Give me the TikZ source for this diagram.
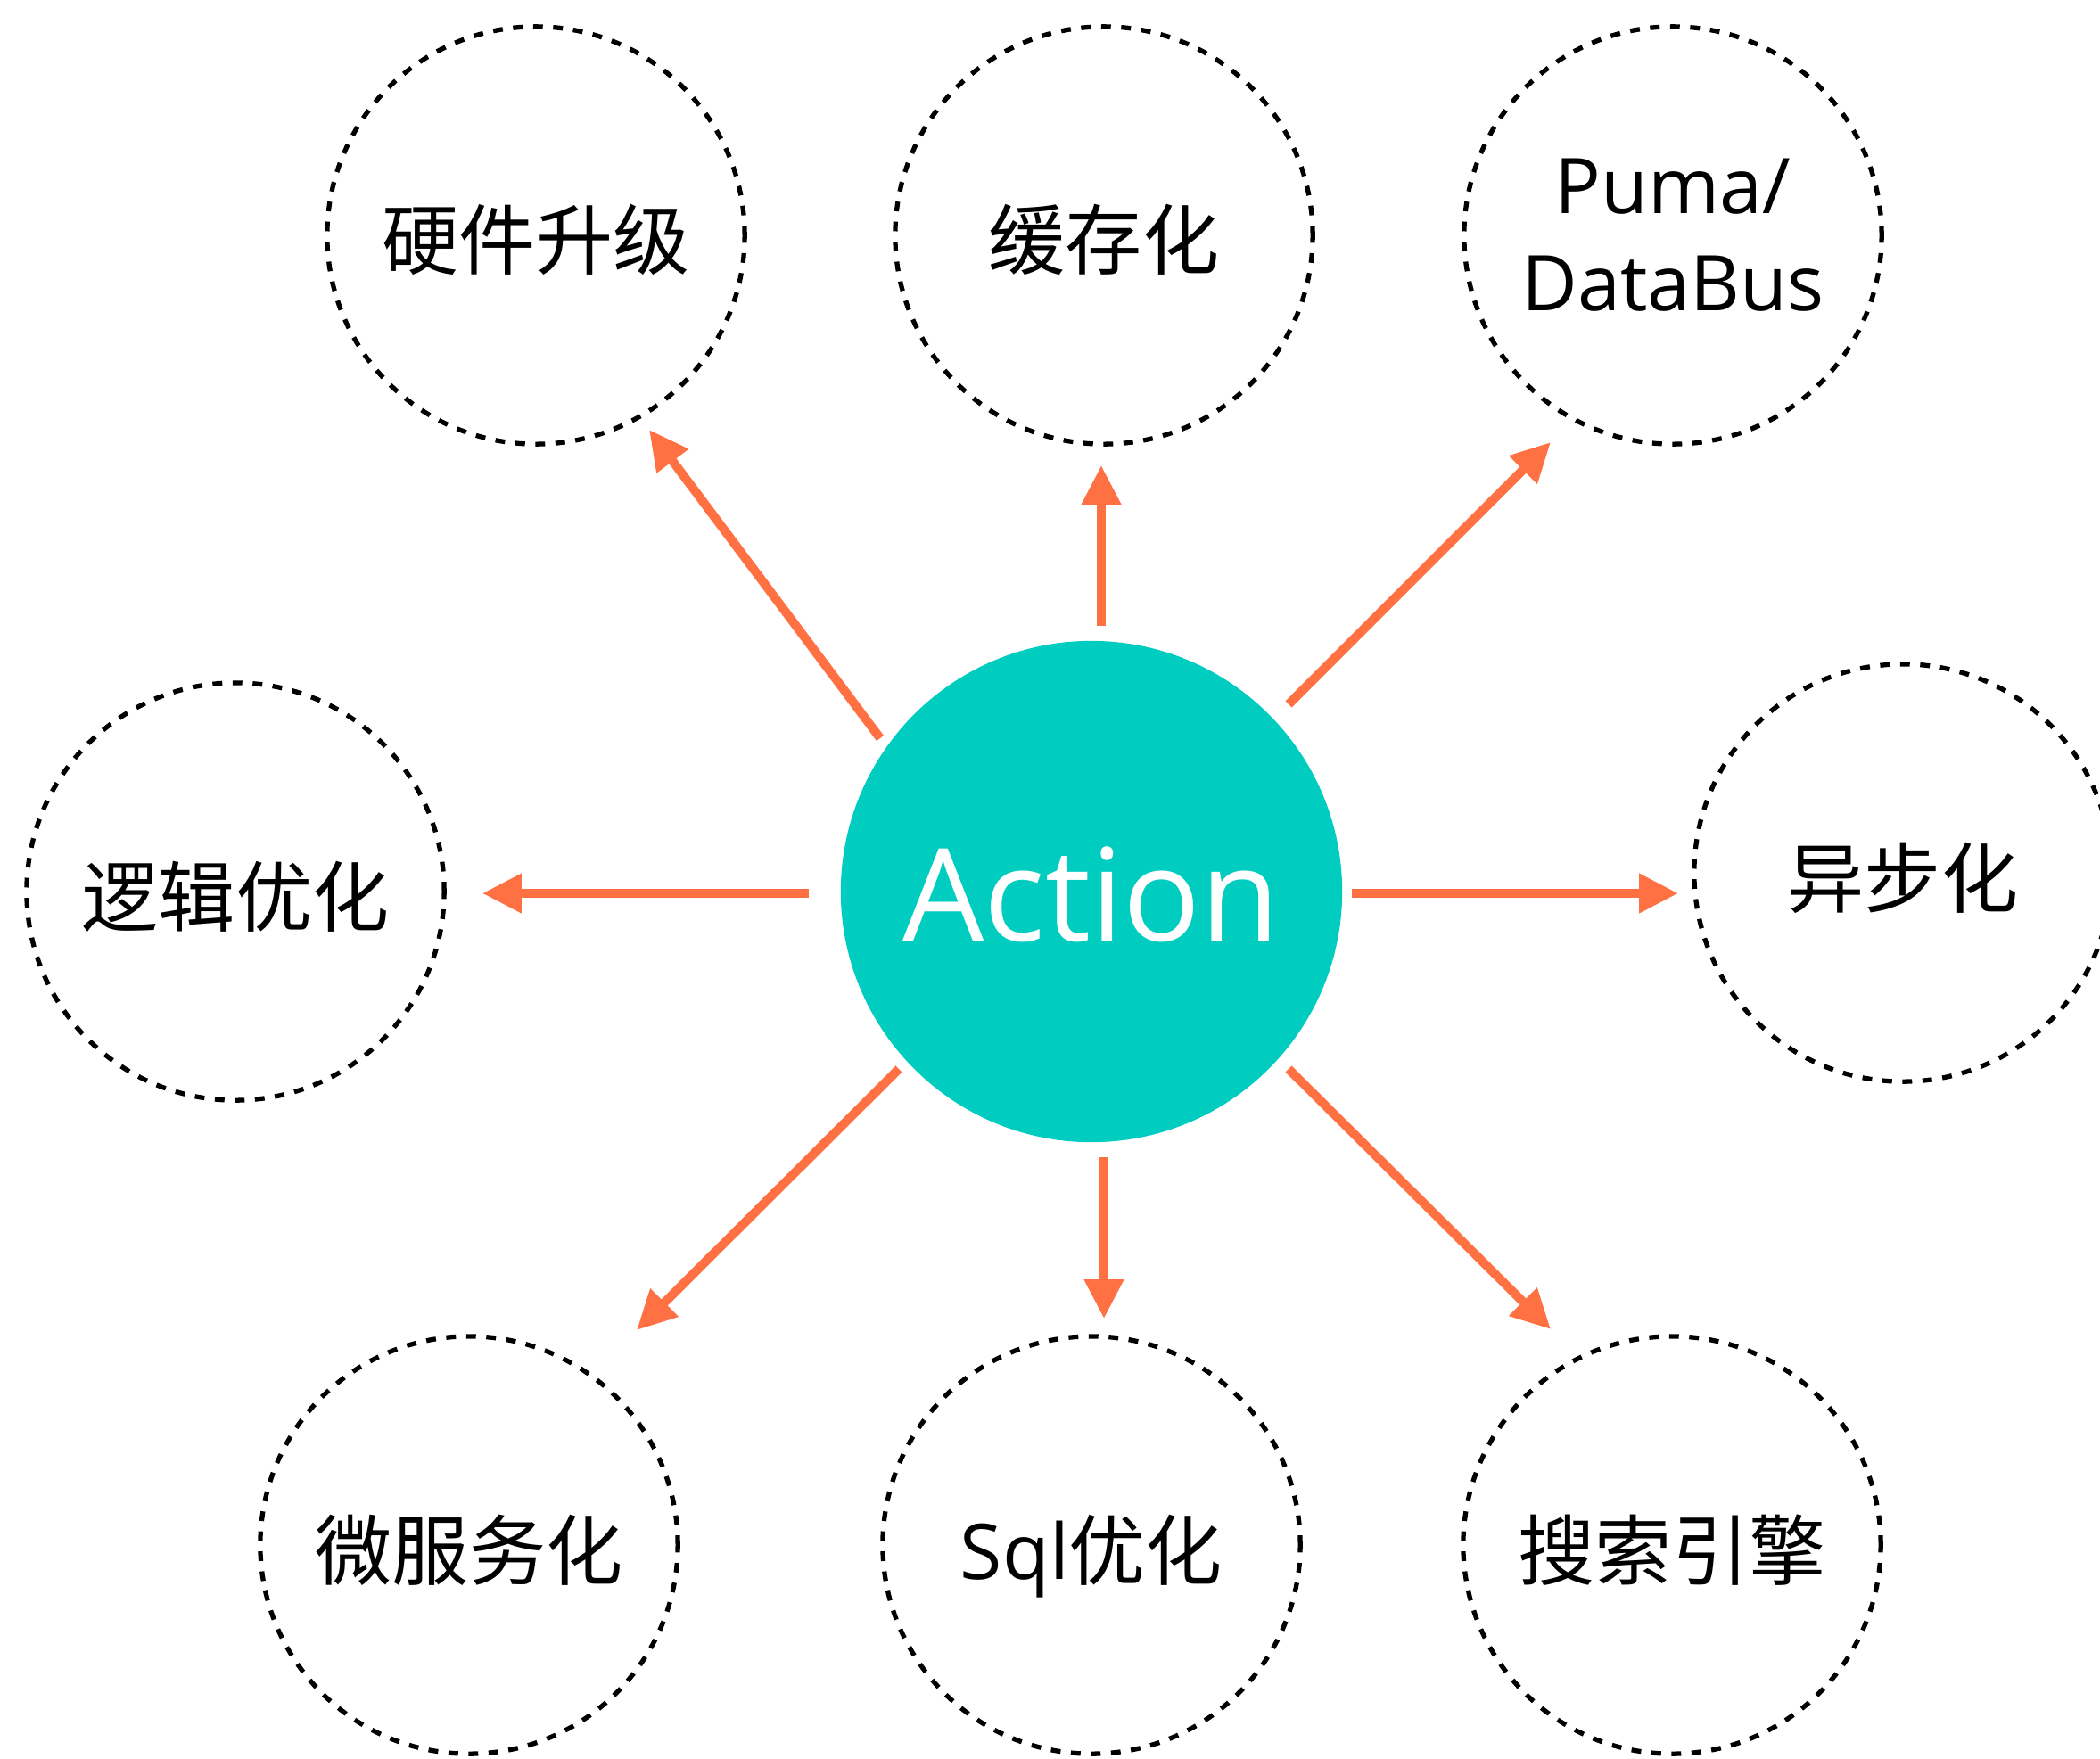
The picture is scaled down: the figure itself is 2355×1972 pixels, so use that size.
\documentclass[tikz,border=0pt]{standalone}
\usepackage{fontspec}
\setmainfont{Open Sans}
\newfontfamily\cjk{Noto Sans CJK SC}
\usetikzlibrary{arrows.meta}
\definecolor{arrowc}{HTML}{FF7043}
\definecolor{tealc}{HTML}{00CCC0}
\tikzset{
  goal/.style={circle, draw=black, line width=1.5pt, dash pattern=on 3.1pt off 3.3pt,
    minimum size=4.68cm, inner sep=0pt, align=center,
    font=\fontsize{24.5}{31}\selectfont},
  goalone/.style={goal, text height=21.6pt, text depth=0pt},
  hub/.style={circle, fill=tealc, minimum size=5.62cm, inner sep=0pt, text=white,
    text height=31.8pt, text depth=0pt,
    font=\fontsize{41}{48}\selectfont},
  link/.style={draw=arrowc, line width=2.85pt, -{Triangle[length=12.5pt,width=12pt]}}
}
\begin{document}
\begin{tikzpicture}[x=0.01cm,y=-0.01cm]
\useasboundingbox (0,0) rectangle (2355,1972);
\node[hub] (act) at (1224,1000) {Action};
\node[goalone] (hw) at (601,264) {\cjk 硬件升级};
\node[goalone] (cache) at (1238,264) {\cjk 缓存化};
\node[goal] (puma) at (1876,264) {Puma/\\DataBus};
\node[goalone] (logic) at (264,1000) {\cjk 逻辑优化};
\node[goalone] (async) at (2134,979) {\cjk 异步化};
\node[goalone] (micro) at (526,1733) {\cjk 微服务化};
\node[goalone] (sql) at (1224,1733) {Sql{\cjk 优化}};
\node[goalone] (search) at (1875,1733) {\cjk 搜索引擎};
% arrow end points
\coordinate (a1s) at (987,828);  \coordinate (a1e) at (728,482);
\coordinate (a2s) at (1235,702); \coordinate (a2e) at (1235,522);
\coordinate (a3s) at (1445,790); \coordinate (a3e) at (1739,496);
\coordinate (a4s) at (907,1002); \coordinate (a4e) at (541,1002);
\coordinate (a5s) at (1516,1002);\coordinate (a5e) at (1882,1002);
\coordinate (a6s) at (1008,1199);\coordinate (a6e) at (714,1492);
\coordinate (a7s) at (1238,1298);\coordinate (a7e) at (1238,1479);
\coordinate (a8s) at (1445,1199);\coordinate (a8e) at (1739,1491);
\draw[link] (a1s) -- (a1e);
\draw[link] (a2s) -- (a2e);
\draw[link] (a3s) -- (a3e);
\draw[link] (a4s) -- (a4e);
\draw[link] (a5s) -- (a5e);
\draw[link] (a6s) -- (a6e);
\draw[link] (a7s) -- (a7e);
\draw[link] (a8s) -- (a8e);
\end{tikzpicture}
\end{document}
